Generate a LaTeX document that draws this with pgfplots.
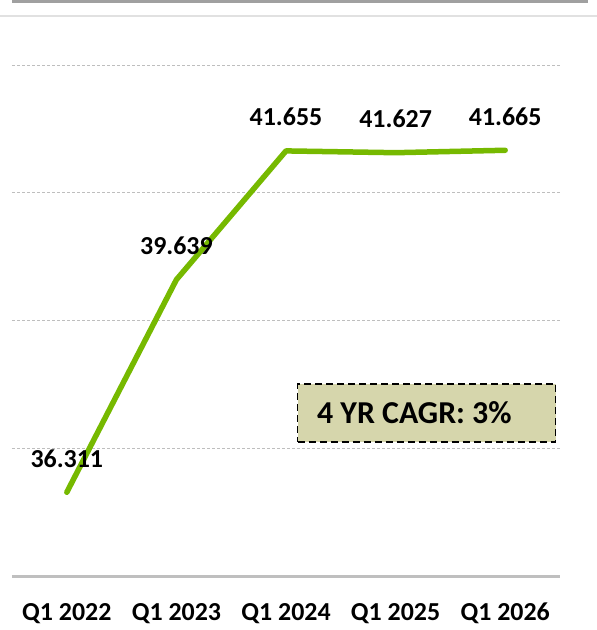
\documentclass[border=0pt]{standalone}
\usepackage{fontspec}
\setmainfont{Carlito}
\usepackage{pgfplots}
\pgfplotsset{compat=1.18}
\definecolor{linegreen}{RGB}{118,185,0}
\definecolor{boxfill}{RGB}{214,214,172}
\definecolor{gridgray}{RGB}{190,190,190}
\definecolor{axgray}{RGB}{191,191,191}
\definecolor{topdark}{RGB}{160,160,160}
\definecolor{toplight}{RGB}{225,225,225}
\begin{document}
\begin{tikzpicture}
\path[use as bounding box] (-12bp,-54bp) rectangle (585bp,576bp);
\fill[topdark] (0bp,573bp) rectangle (576bp,576bp);
\fill[toplight] (-12bp,559bp) rectangle (585bp,561bp);
\begin{axis}[
  at={(0,0)}, anchor=south west,
  scale only axis, width=548bp, height=511bp,
  xmin=-0.5, xmax=4.5, ymin=35, ymax=43,
  axis line style={draw=none},
  tick style={draw=none},
  ytick={37,39,41,43}, yticklabels={},
  ymajorgrids,
  major grid style={gridgray, line width=0.8bp, dash pattern=on 3bp off 2bp},
  xtick={0,1,2,3,4},
  xticklabels={Q1 2022, Q1 2023, Q1 2024, Q1 2025, Q1 2026},
  xticklabel style={font=\fontsize{26}{26}\selectfont\bfseries, anchor=base, yshift=-44bp, inner sep=0pt},
  clip=false,
  point meta=explicit symbolic,
  nodes near coords,
  nodes near coords style={font=\fontsize{26}{26}\selectfont\bfseries, anchor=center, yshift=34bp, inner sep=0pt, text=black},
]
\draw[axgray, line width=3bp] (rel axis cs:0,0) -- (rel axis cs:1,0);
\addplot[linegreen, line width=5.5bp, line cap=round, line join=round, no marks] coordinates {
  (0,36.311) [36.311]
  (1,39.639) [39.639]
  (2,41.655) [41.655]
  (3,41.627) [41.627]
  (4,41.665) [41.665]
};
\node[draw=black, fill=boxfill, line width=1.5bp, dash pattern=on 7bp off 4bp, minimum width=258bp, minimum height=58bp, inner sep=0pt] at (axis cs:3.282,37.552) {};
\node[anchor=west, inner sep=0pt, font=\fontsize{32}{32}\selectfont\bfseries] at (axis cs:2.2818,37.552) {4 YR CAGR: 3\%};
\end{axis}
\end{tikzpicture}
\end{document}
